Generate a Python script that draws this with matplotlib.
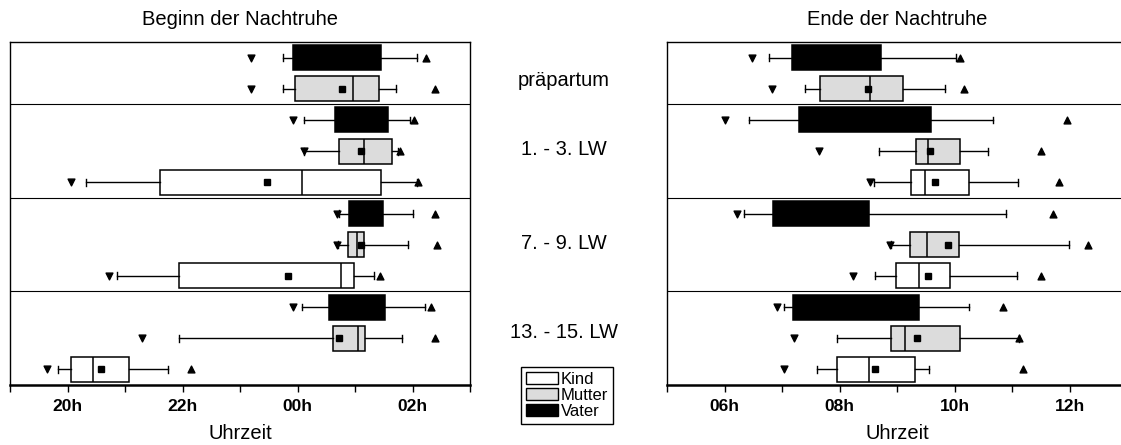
import matplotlib.pyplot as plt
from matplotlib.patches import Patch
from matplotlib.ticker import FixedLocator, FuncFormatter

plt.rcParams['font.family'] = ['Liberation Sans', 'DejaVu Sans']

# rows from top to bottom, hours after midnight are written as 24+
groups = ["präpartum", "1. - 3. LW", "7. - 9. LW", "13. - 15. LW"]
rows = ["Vater", "Mutter",
        "Vater", "Mutter", "Kind",
        "Vater", "Mutter", "Kind",
        "Vater", "Mutter", "Kind"]

# Beginn der Nachtruhe
begin_min = [23.19, 23.19, 23.93, 24.12, 20.06, 24.68, 24.68, 20.72, 23.93, 21.30, 19.65]
begin_wlo = [23.74, 23.75, 24.12, 24.12, 20.32, 24.72, 24.70, 20.86, 24.07, 21.94, 19.83]
begin_q1 = [23.92, 23.95, 24.66, 24.72, 21.60, 24.89, 24.87, 21.94, 24.55, 24.61, 20.06]
begin_med = [24.70, 24.97, 25.10, 25.15, 24.08, 25.20, 25.04, 24.76, 25.00, 25.05, 20.44]
begin_q3 = [25.46, 25.42, 25.58, 25.65, 25.46, 25.49, 25.15, 24.98, 25.53, 25.18, 21.07]
begin_whi = [26.07, 25.72, 25.96, 25.74, 26.07, 26.00, 25.92, 25.33, 26.21, 25.82, 21.74]
begin_max = [26.24, 26.39, 26.02, 25.78, 26.10, 26.39, 26.42, 25.43, 26.33, 26.39, 22.14]
begin_mean = [24.70, 24.77, 25.10, 25.11, 23.47, 25.20, 25.11, 23.83, 25.00, 24.72, 20.59]

# Ende der Nachtruhe
end_min = [6.48, 6.83, 6.01, 7.64, 8.53, 6.21, 8.87, 8.24, 6.91, 7.21, 7.03]
end_wlo = [6.78, 7.40, 6.43, 8.69, 8.60, 6.34, 8.90, 8.62, 7.03, 7.96, 7.60]
end_q1 = [7.18, 7.66, 7.29, 9.33, 9.25, 6.84, 9.23, 8.98, 7.19, 8.89, 7.96]
end_med = [8.00, 8.53, 8.40, 9.54, 9.49, 7.70, 9.52, 9.39, 8.30, 9.14, 8.52]
end_q3 = [8.73, 9.11, 9.59, 10.09, 10.25, 8.51, 10.08, 9.92, 9.39, 10.09, 9.31]
end_whi = [10.03, 9.83, 10.67, 10.58, 11.10, 10.89, 11.99, 11.09, 10.26, 11.13, 9.56]
end_max = [10.10, 10.17, 11.95, 11.51, 11.81, 11.71, 12.32, 11.50, 10.84, 11.13, 11.19]
end_mean = [8.00, 8.49, 8.40, 9.57, 9.66, 7.70, 9.89, 9.54, 8.30, 9.34, 8.61]

colors = {"Kind": "white", "Mutter": "#dcdcdc", "Vater": "black"}
separators = [2, 5, 8]


def draw_panel(ax, mins, wlo, q1, med, q3, whi, maxs, means, xlim, title):
    pos = [i + 0.5 for i in range(len(rows))]
    stats = []
    for i in range(len(rows)):
        stats.append(dict(whislo=wlo[i], q1=q1[i], med=med[i], q3=q3[i],
                          whishi=whi[i], mean=means[i], fliers=[]))
    bp = ax.bxp(stats, positions=pos, widths=0.8, orientation='horizontal',
                patch_artist=True, showmeans=True, showfliers=False,
                capwidths=0.22,
                boxprops=dict(edgecolor='black', linewidth=1.1),
                medianprops=dict(color='black', linewidth=1.1),
                whiskerprops=dict(color='black', linewidth=1.0),
                capprops=dict(color='black', linewidth=1.0),
                meanprops=dict(marker='s', markersize=4,
                               markerfacecolor='black', markeredgecolor='black'))
    for patch, who in zip(bp['boxes'], rows):
        patch.set_facecolor(colors[who])

    ax.scatter(mins, pos, marker='v', s=24, color='black', zorder=3)
    ax.scatter(maxs, pos, marker='^', s=24, color='black', zorder=3)

    for s in separators:
        ax.axhline(s, color='black', linewidth=0.8)

    ax.set_ylim(len(rows), 0)
    ax.set_yticks([])
    ax.set_xlim(*xlim)
    lo, hi = int(xlim[0]), int(round(xlim[1]))
    ax.xaxis.set_major_locator(FixedLocator([h for h in range(lo, hi + 1) if h % 2 == 0]))
    ax.xaxis.set_minor_locator(FixedLocator([h for h in range(lo, hi + 1) if h % 2 == 1]))
    ax.xaxis.set_major_formatter(FuncFormatter(lambda v, p: f"{int(v) % 24:02d}h"))
    ax.tick_params(axis='x', which='both', direction='out', length=5, width=1, pad=5)
    for lab in ax.get_xticklabels():
        lab.set_fontweight('bold')
        lab.set_fontsize(12.5)
    for side in ['top', 'left', 'right']:
        ax.spines[side].set_linewidth(1.0)
    ax.spines['bottom'].set_linewidth(1.8)
    ax.set_title(title, fontsize=14.5, pad=12)
    ax.set_xlabel("Uhrzeit", fontsize=14.5, labelpad=7)


fig = plt.figure(figsize=(11.21, 4.45), dpi=100)
ax1 = fig.add_axes([10 / 1121, 1 - 385 / 445, 460 / 1121, 343 / 445])
ax2 = fig.add_axes([667 / 1121, 1 - 385 / 445, 460 / 1121, 343 / 445])

draw_panel(ax1, begin_min, begin_wlo, begin_q1, begin_med, begin_q3,
           begin_whi, begin_max, begin_mean, (19, 27), "Beginn der Nachtruhe")
draw_panel(ax2, end_min, end_wlo, end_q1, end_med, end_q3,
           end_whi, end_max, end_mean, (5, 13), "Ende der Nachtruhe")

# group names between the panels
label_y = [80, 150, 243, 333]
for name, y in zip(groups, label_y):
    fig.text(564 / 1121, 1 - y / 445, name, ha='center', va='center', fontsize=14.5)

handles = [Patch(facecolor=colors[k], edgecolor='black', label=k)
           for k in ["Kind", "Mutter", "Vater"]]
fig.legend(handles=handles, loc='upper left',
           bbox_to_anchor=(521 / 1121, 1 - 367 / 445),
           frameon=True, fancybox=False, edgecolor='black', framealpha=1,
           fontsize=12, handlelength=1.9, handleheight=0.75, handletextpad=0.2,
           labelspacing=0.05, borderpad=0.3, borderaxespad=0)

fig.savefig("out.png", dpi=100)
